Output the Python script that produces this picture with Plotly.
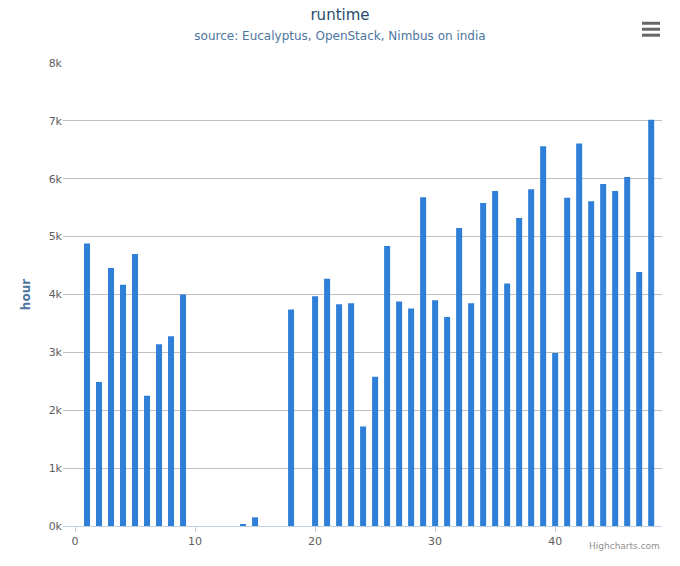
import plotly.graph_objects as go

x_vals = list(range(1, 49))
runtime_k = [4.88, 2.49, 4.46, 4.17, 4.70, 2.25, 3.14, 3.28, 4.00, 0, 0, 0, 0, 0.03, 0.15, 0, 0,
             3.74, 0, 3.97, 4.27, 3.83, 3.85, 1.72, 2.58, 4.84, 3.88, 3.76, 5.68, 3.90, 3.61, 5.15,
             3.85, 5.58, 5.79, 4.19, 5.32, 5.82, 6.56, 2.99, 5.67, 6.61, 5.61, 5.91, 5.79, 6.03, 4.39, 7.02]
runtime = [v * 1000 for v in runtime_k]
y_ticks = [0, 1000, 2000, 3000, 4000, 5000, 6000, 7000, 8000]
y_labels = ["0k", "1k", "2k", "3k", "4k", "5k", "6k", "7k", "8k"]

fig = go.Figure(go.Bar(x=x_vals, y=runtime, width=0.5, marker=dict(color="#2f7ed8", line_width=0)))

fig.update_layout(
    width=664, height=550, paper_bgcolor="white", plot_bgcolor="white",
    margin=dict(l=55, r=10, t=55, b=29),
    font=dict(family="DejaVu Sans", size=11, color="#606060"),
    title=dict(text="runtime<br><span style='font-size:12px;color:#4d759e'>source: Eucalyptus, OpenStack, Nimbus on india</span>",
               x=0.5, xanchor="center", y=1 - 12 / 550, yanchor="top",
               font=dict(size=15, color="#274b6d")),
    xaxis=dict(range=[-1, 48.9], tickvals=[0, 10, 20, 30, 40], showgrid=False,
               showline=True, linecolor="#c0d0e0", ticks="outside", tickcolor="#c0d0e0", ticklen=5,
               zeroline=False, tickfont=dict(size=11, color="#606060")),
    yaxis=dict(range=[0, 8000], tickvals=y_ticks, ticktext=y_labels, showgrid=True, gridcolor="#c0c0c0",
               zeroline=False, title=dict(text="<b>hour</b>", font=dict(size=12, color="#4d759e")),
               tickfont=dict(size=11, color="#606060")),
    showlegend=False, bargap=0.5,
)
fig.add_annotation(text="Highcharts.com", xref="paper", yref="paper", x=1.0, y=(529 - 549) / 466,
                   xanchor="right", yanchor="middle", showarrow=False, font=dict(size=9, color="#909090"))
for py in [23, 29, 35]:
    fig.add_shape(type="line", xref="paper", yref="paper", x0=(642 - 63) / 599, x1=(660 - 63) / 599,
                  y0=(529 - py) / 466, y1=(529 - py) / 466, line=dict(color="#666666", width=3))
fig.write_html("out.html")
